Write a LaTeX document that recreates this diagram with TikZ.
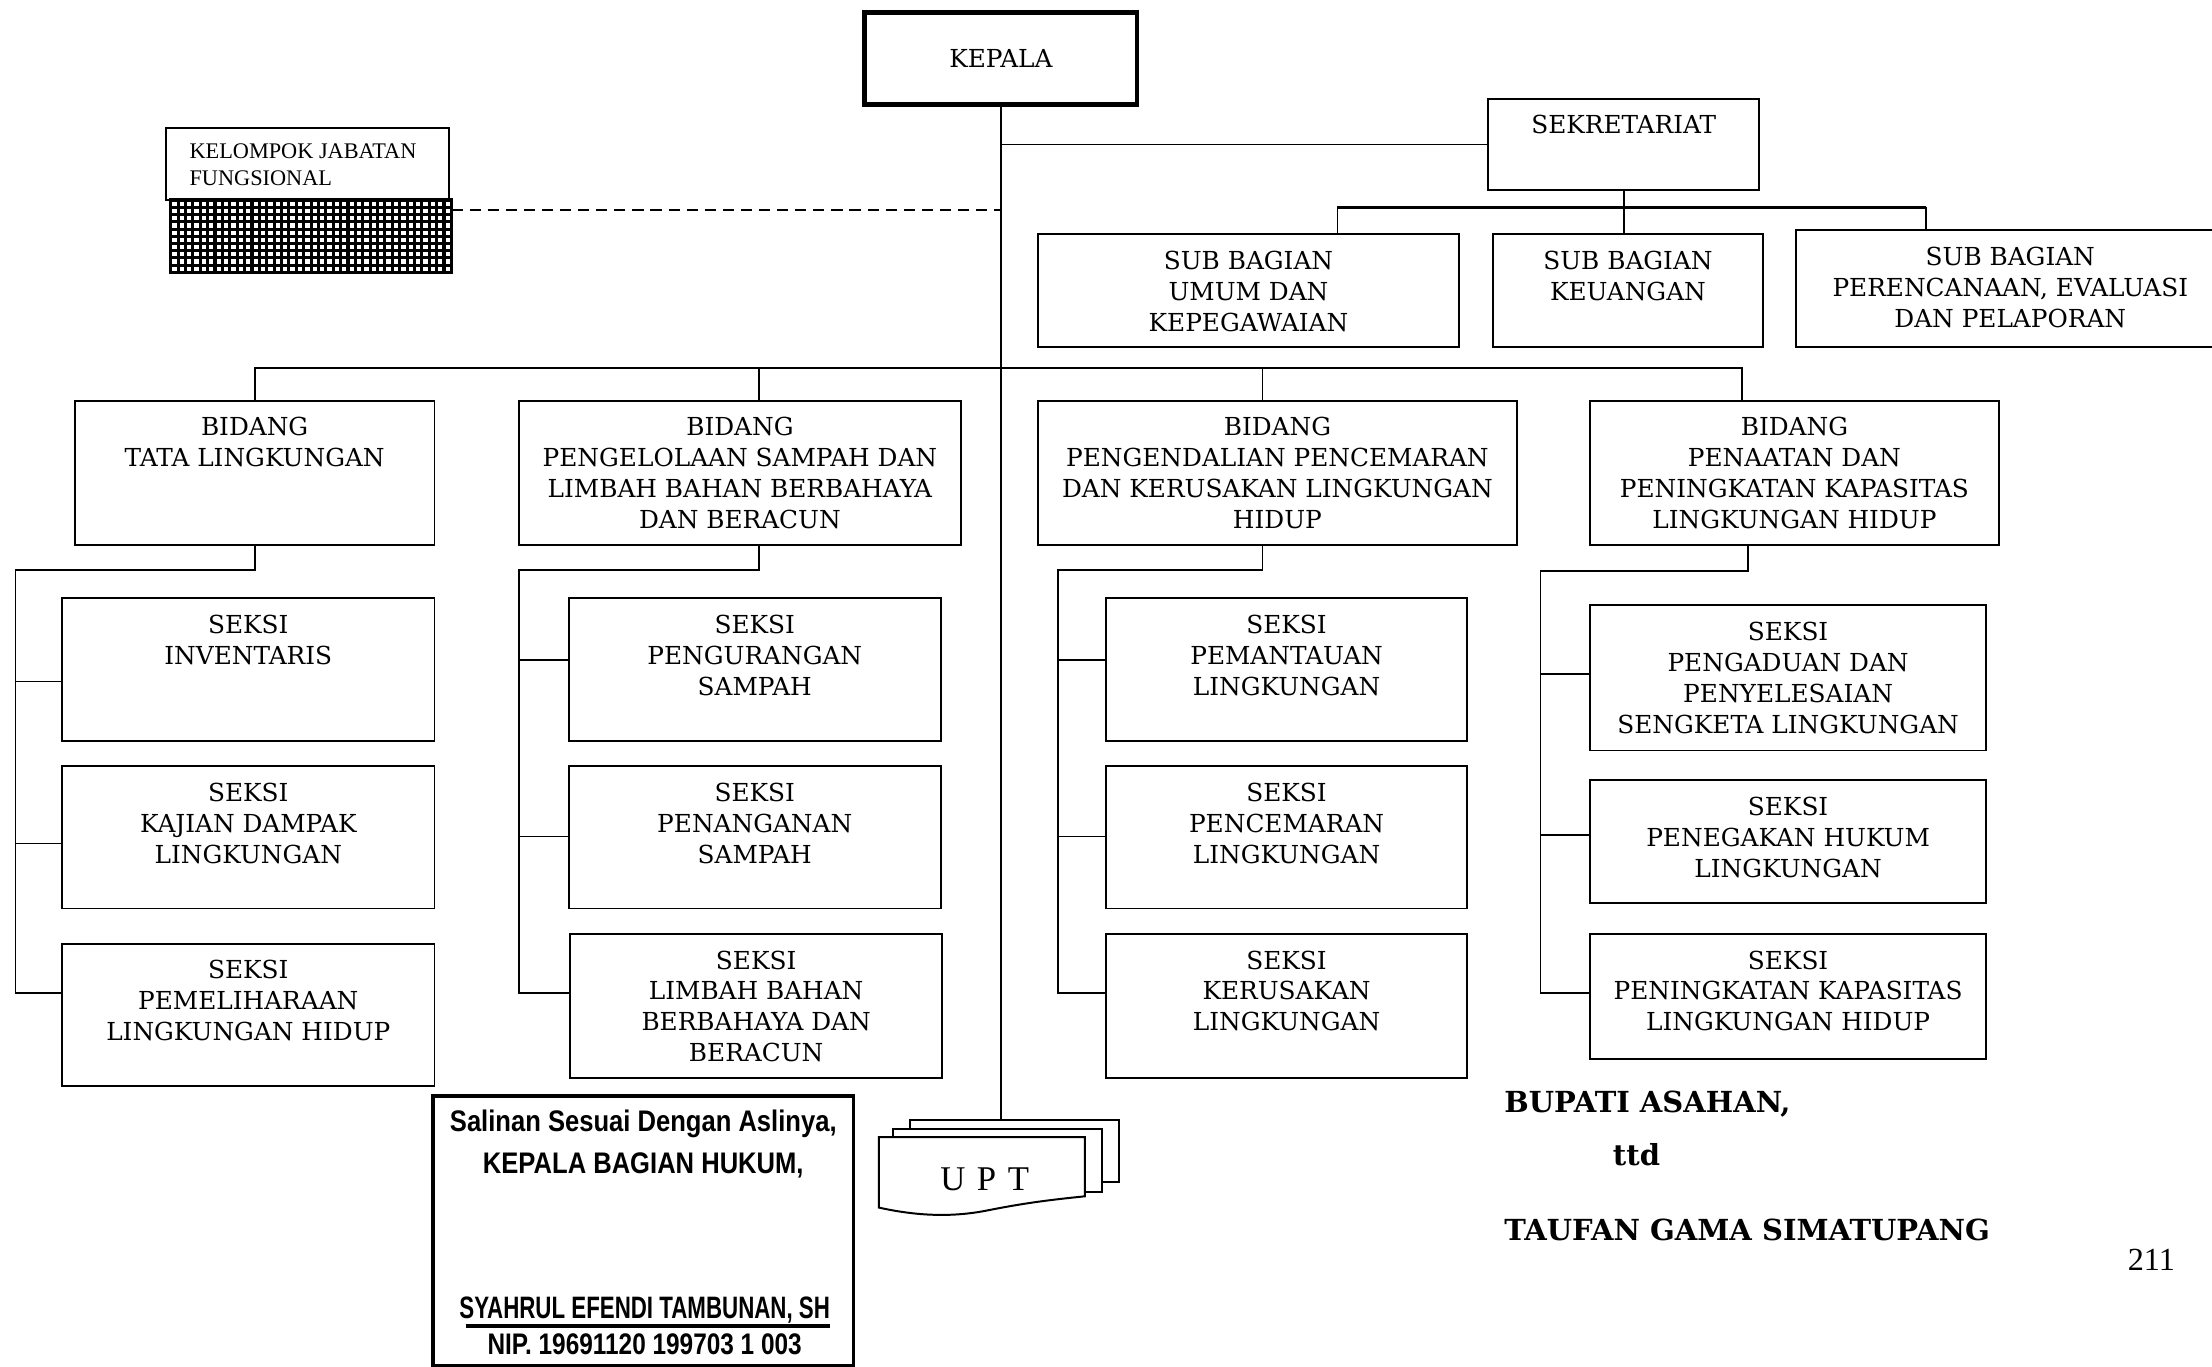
\documentclass[tikz,border=0pt]{standalone}
\usepackage{fontspec}
\setmainfont{DejaVu Serif}
\newfontfamily\kjffont{Liberation Serif}
\newfontfamily\stampfont[FakeStretch=0.86]{Liberation Sans}
\newfontfamily\stampnarrow[FakeStretch=0.72]{Liberation Sans}
\newfontfamily\stampnip[FakeStretch=0.82]{Liberation Sans}
\newcommand\unitbox[6]{%
  \node[unit, minimum width={(#4-#2)*0.02cm}, minimum height={(#5-#3)*0.02cm}]
    (#1) at ({(#2+#4)/2},{(#3+#5)/2}) {};
  \node[unitlabel] (#1-txt) at ({(#2+#4)/2},{#3+11.5}) {#6};}
\begin{document}
\begin{tikzpicture}[x=0.02cm,y=-0.02cm,
  unit/.style={draw, line width=0.8pt, inner sep=0pt, fill=white},
  unitlabel/.style={anchor=north, align=center, inner sep=0pt,
    font=\fontsize{10}{12.5}\selectfont},
  link/.style={line width=0.7pt},
  stampline/.style={inner sep=0pt, font=\stampfont\bfseries\fontsize{12}{14}\selectfont},
  signline/.style={anchor=base west, inner sep=0pt,
    font=\bfseries\fontsize{11.7}{14}\selectfont},
]
\useasboundingbox (0,0) rectangle (1568,969);

% head of the office
\node[unit, line width=1.9pt, minimum width={193*0.02cm}, minimum height={65*0.02cm},
  font=\fontsize{10}{12.5}\selectfont] (kepala) at (709.5,41.5) {KEPALA};

% secretariat and its sub-sections
\unitbox{sek}{1055}{70}{1247}{135}{SEKRETARIAT}
\unitbox{sbu}{736}{166}{1034}{246}{SUB BAGIAN\\UMUM DAN\\KEPEGAWAIAN}
\unitbox{sbk}{1058}{166}{1250}{246}{SUB BAGIAN\\KEUANGAN}
\unitbox{sbp}{1273}{163}{1577}{246}{SUB BAGIAN\\PERENCANAAN, EVALUASI\\DAN PELAPORAN}

% functional group with grid pattern
\node[unit, line width=0.8pt, minimum width={200*0.02cm}, minimum height={51*0.02cm}]
  (kjf) at (218,116.5) {};
\node[anchor=north west, align=left, inner sep=0pt,
  font=\kjffont\fontsize{9}{10.8}\selectfont] (kjf-txt) at (134,101.8)
  {KELOMPOK JABATAN\\FUNGSIONAL};
\node[draw, line width=0.8pt, fill=white, inner sep=0pt,
  minimum width={199*0.02cm}, minimum height={51*0.02cm}] (fjgrid) at (220.5,167.5) {};
\foreach \i in {0,...,38} \draw[line width=1.25pt] ({121+\i*199/38},142) -- ++(0,51);
\foreach \j in {0,...,10} \draw[line width=1.25pt] (121,{142+\j*5.1}) -- ++(199,0);
\draw[line width=0.8pt] (fjgrid.north west) rectangle (fjgrid.south east);

% divisions
\unitbox{bidA}{53}{284}{308}{386}{BIDANG\\TATA LINGKUNGAN}
\unitbox{bidB}{368}{284}{681}{386}{BIDANG\\PENGELOLAAN SAMPAH DAN\\LIMBAH BAHAN BERBAHAYA\\DAN BERACUN}
\unitbox{bidC}{736}{284}{1075}{386}{BIDANG\\PENGENDALIAN PENCEMARAN\\DAN KERUSAKAN LINGKUNGAN\\HIDUP}
\unitbox{bidD}{1127}{284}{1417}{386}{BIDANG\\PENAATAN DAN\\PENINGKATAN KAPASITAS\\LINGKUNGAN HIDUP}

% sections
\unitbox{s1a}{44}{424}{308}{525}{SEKSI\\INVENTARIS}
\unitbox{s1b}{44}{543}{308}{644}{SEKSI\\KAJIAN DAMPAK\\LINGKUNGAN}
\unitbox{s1c}{44}{669}{308}{770}{SEKSI\\PEMELIHARAAN\\LINGKUNGAN HIDUP}
\unitbox{s2a}{403}{424}{667}{525}{SEKSI\\PENGURANGAN\\SAMPAH}
\unitbox{s2b}{403}{543}{667}{644}{SEKSI\\PENANGANAN\\SAMPAH}
\unitbox{s2c}{404}{662}{668}{764}{SEKSI\\LIMBAH BAHAN\\BERBAHAYA DAN\\BERACUN}
\unitbox{s3a}{784}{424}{1040}{525}{SEKSI\\PEMANTAUAN\\LINGKUNGAN}
\unitbox{s3b}{784}{543}{1040}{644}{SEKSI\\PENCEMARAN\\LINGKUNGAN}
\unitbox{s3c}{784}{662}{1040}{764}{SEKSI\\KERUSAKAN\\LINGKUNGAN}
\unitbox{s4a}{1127}{429}{1408}{532}{SEKSI\\PENGADUAN DAN\\PENYELESAIAN\\SENGKETA LINGKUNGAN}
\unitbox{s4b}{1127}{553}{1408}{640}{SEKSI\\PENEGAKAN HUKUM\\LINGKUNGAN}
\unitbox{s4c}{1127}{662}{1408}{751}{SEKSI\\PENINGKATAN KAPASITAS\\LINGKUNGAN HIDUP}

% technical units (stacked pages)
\node[unit, minimum width={148*0.02cm}, minimum height={44*0.02cm}] (upt3) at (719,816) {};
\node[unit, minimum width={148*0.02cm}, minimum height={45*0.02cm}] (upt2) at (707,822.5) {};
\draw[line width=0.8pt, fill=white] (623,806) -- (769,806) -- (769,848)
  .. controls (750,850) and (730,852) .. (700,858)
  .. controls (675,863) and (650,862) .. (623,856) -- cycle;
\node[inner sep=0pt, font=\kjffont\fontsize{14}{16}\selectfont] (upt) at (698,836) {U\,\,P\,\,T};

% connectors
\coordinate (fj-out) at (320,149);
\coordinate (sekbus) at (1147,147);
\coordinate (sbu-in) at (948,166);
\coordinate (sbp-in) at (1365,163);
\coordinate (mainbus) at (711,261);
\coordinate (bidA-in) at (181,284);
\coordinate (bidB-in) at (538,284);
\coordinate (bidC-in) at (895,284);
\coordinate (bidD-in) at (1235,284);

\draw[link] (kepala.south) -- (kepala.south |- upt3.north);
\draw[link] (kepala.south |- sek.west) -- (sek.west);
\draw[link, dash pattern=on 4.5pt off 2.8pt] (fj-out) -- (kepala.south |- fj-out);

\draw[link] (sek.south) -- (sek.south |- sekbus);
\draw[link] (sbu-in) |- (sekbus) -| (sbp-in);
\draw[line width=1.3pt] (sbu-in |- sekbus) -- (sbp-in |- sekbus);
\draw[link] (sek.south |- sekbus) -- (sek.south |- sbk.north);

\draw[link] (bidA-in) |- (kepala.south |- mainbus) -| (bidD-in);
\draw[link] (bidB-in) -- (bidB-in |- mainbus);
\draw[link] (bidC-in) -- (bidC-in |- mainbus);

% section branches, column 1
\coordinate (bidA-out) at (181,386); \coordinate (c1) at (11,404);
\coordinate (s1a-in) at (44,483); \coordinate (s1b-in) at (44,598); \coordinate (s1c-in) at (44,704);
\draw[link] (bidA-out) |- (c1) |- (s1c-in);
\draw[link] (c1 |- s1a-in) -- (s1a-in);
\draw[link] (c1 |- s1b-in) -- (s1b-in);
% column 2
\coordinate (bidB-out) at (538,386); \coordinate (c2) at (368,404);
\coordinate (s2a-in) at (403,468); \coordinate (s2b-in) at (403,593); \coordinate (s2c-in) at (404,704);
\draw[link] (bidB-out) |- (c2) |- (s2c-in);
\draw[link] (c2 |- s2a-in) -- (s2a-in);
\draw[link] (c2 |- s2b-in) -- (s2b-in);
% column 3
\coordinate (bidC-out) at (895,386); \coordinate (c3) at (750,404);
\coordinate (s3a-in) at (784,468); \coordinate (s3b-in) at (784,593); \coordinate (s3c-in) at (784,704);
\draw[link] (bidC-out) |- (c3) |- (s3c-in);
\draw[link] (c3 |- s3a-in) -- (s3a-in);
\draw[link] (c3 |- s3b-in) -- (s3b-in);
% column 4
\coordinate (bidD-out) at (1239,386); \coordinate (c4) at (1092,405);
\coordinate (s4a-in) at (1127,478); \coordinate (s4b-in) at (1127,592); \coordinate (s4c-in) at (1127,704);
\draw[link] (bidD-out) |- (c4) |- (s4c-in);
\draw[link] (c4 |- s4a-in) -- (s4a-in);
\draw[link] (c4 |- s4b-in) -- (s4b-in);

% certified copy stamp
\node[draw, line width=1.6pt, inner sep=0pt, minimum width={298*0.02cm},
  minimum height={191*0.02cm}] (stamp) at (456,872.5) {};
\node[stampline] (st1) at (456,797) {Salinan Sesuai Dengan Aslinya,};
\node[stampline] (st2) at (456,826) {KEPALA BAGIAN HUKUM,};
\node[stampline, font=\stampnarrow\bfseries\fontsize{12.5}{14}\selectfont] (st3)
  at (457,929) {SYAHRUL EFENDI TAMBUNAN, SH};
\draw[line width=1.3pt] (330,940) -- (588,940);
\node[stampline, font=\stampnip\bfseries\fontsize{12}{14}\selectfont] (st4)
  at (457,953) {NIP. 19691120 199703 1 003};

% signature block
\node[signline] (bupati) at (1066,788.5) {BUPATI ASAHAN,};
\node[signline] (ttd) at (1143,826.5) {ttd};
\node[signline] (nama) at (1066,879.5) {TAUFAN GAMA SIMATUPANG};
\node[anchor=base west, inner sep=0pt, font=\kjffont\fontsize{13}{15}\selectfont]
  (page) at (1508,900.5) {211};
\end{tikzpicture}
\end{document}
